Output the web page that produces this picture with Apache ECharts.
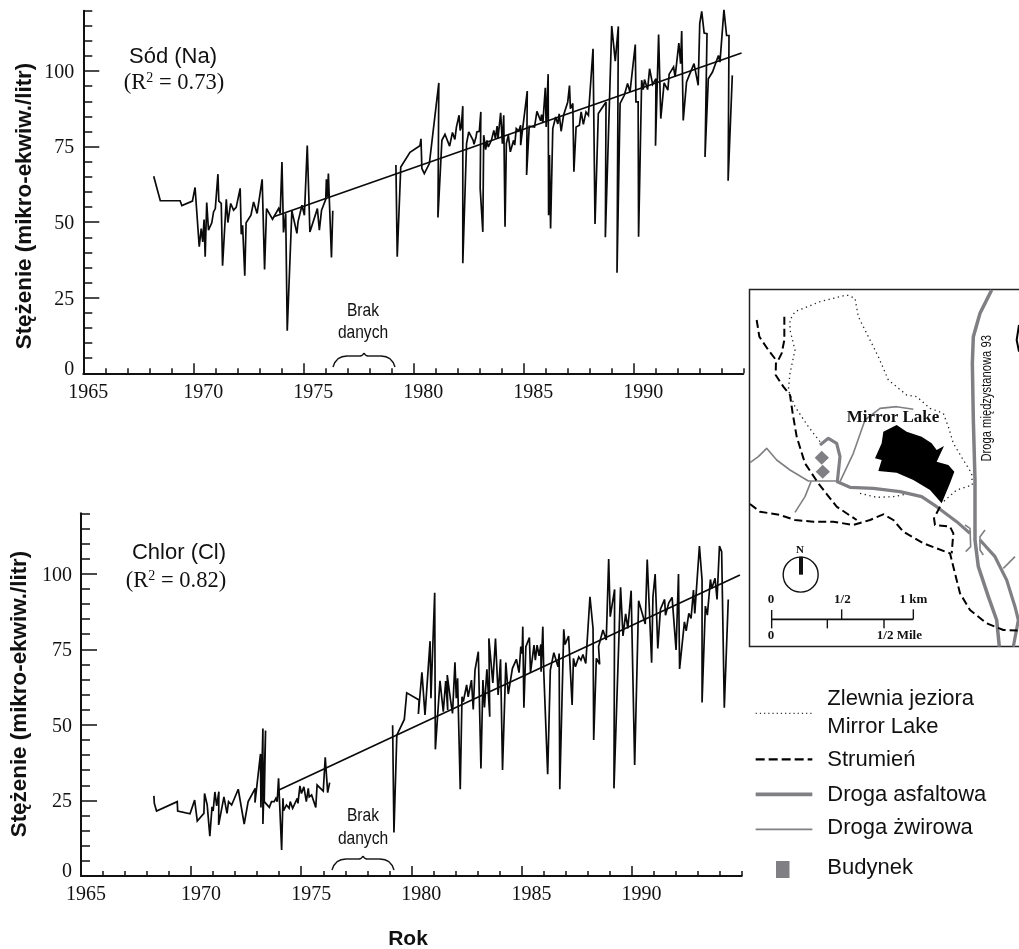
<!DOCTYPE html>
<html><head><meta charset="utf-8">
<style>html,body{margin:0;padding:0;background:#fff}#c{width:1019px;height:949px}</style>
<script src="https://cdn.jsdelivr.net/npm/echarts@6/dist/echarts.min.js"></script>
</head><body><div id="c"></div>
<script>
const yearTicks=[1970,1975,1980,1985,1990];
const xAxisLabels=[1965,1970,1975,1980,1985,1990];
const concTicks=[0,25,50,75,100];
const sodEarly=[[1968.2,65.2],[1968.5,57.1],[1969.4,57.1],[1969.48,55.5],[1969.96,57],[1970.08,61.5],[1970.27,41.9],[1970.36,47.9],[1970.43,43.5],[1970.49,50.9],[1970.54,38.6],[1970.61,56.5],[1970.69,47.4],[1970.84,49.8],[1970.92,53.4],[1971,54.5],[1971.12,65.9],[1971.16,57],[1971.27,56.2],[1971.33,35.6],[1971.5,57.6],[1971.57,49.9],[1971.7,56.2],[1971.83,54],[1971.95,54.9],[1972.13,61.2],[1972.18,46],[1972.24,49],[1972.27,49],[1972.34,32.3],[1972.4,49.8],[1972.62,52.3],[1972.74,56.7],[1972.9,52.9],[1973.13,64.2],[1973.24,34.4],[1973.33,54.5],[1973.6,51],[1973.88,54.6],[1973.95,52.9],[1974.03,69.9],[1974.1,46.6],[1974.2,52.9],[1974.27,14.1],[1974.48,53.8],[1974.71,46.3],[1974.76,50.1],[1974.94,55.6],[1975.05,52.3],[1975.18,75.4],[1975.3,46.8],[1975.64,54.5],[1975.73,47.4],[1975.83,54],[1976.02,57.6],[1976.05,64.2],[1976.1,58.4],[1976.14,66.1],[1976.28,38.3],[1976.34,53.8]];
const sodLate=[[1979.21,68.9],[1979.27,38.6],[1979.43,68.3],[1979.85,73.1],[1980.3,75.3],[1980.35,77.6],[1980.39,67.8],[1980.5,66.1],[1980.73,69.4],[1981.16,96.1],[1981.12,51.6],[1981.3,77.1],[1981.44,79.1],[1981.65,75.2],[1981.78,79.7],[1981.89,77.4],[1981.96,81.5],[1982.03,81],[1982.08,85.4],[1982.13,80.4],[1982.18,81.5],[1982.25,88.4],[1982.25,36.4],[1982.42,76],[1982.47,76.2],[1982.52,79.9],[1982.72,77.1],[1982.76,75.8],[1982.85,78.2],[1982.89,79.9],[1983,80.1],[1983.07,86.5],[1983.04,61.2],[1983.16,46.8],[1983.2,78.8],[1983.29,74],[1983.35,77.1],[1983.41,74.9],[1983.55,77.1],[1983.66,80.4],[1983.73,77.7],[1983.81,81.8],[1983.85,77.7],[1983.97,86.2],[1984.05,76],[1984.11,85.4],[1984.17,48.5],[1984.23,76],[1984.32,78.8],[1984.41,73.3],[1984.56,77.1],[1984.61,75.5],[1984.68,81],[1984.79,80.2],[1984.88,82.1],[1984.88,75.5],[1985.18,93.4],[1985.15,65.6],[1985.27,81.8],[1985.51,81.5],[1985.62,86.7],[1985.79,83.5],[1985.83,85.6],[1985.89,82.9],[1986,94.5],[1986.04,81.5],[1986.13,99],[1986.15,52.3],[1986.19,72.2],[1986.24,47.9],[1986.34,81],[1986.47,84.8],[1986.57,82.5],[1986.63,85.9],[1986.72,80.1],[1986.83,85.4],[1987.02,89.8],[1987.1,95.2],[1987.14,87.6],[1987.25,89.3],[1987.3,66.7],[1987.4,81.5],[1987.55,82.1],[1987.63,86.5],[1987.73,82.4],[1987.85,86.5],[1987.96,85.4],[1988.17,107.4],[1988.26,49.4],[1988.41,86],[1988.76,89.8],[1988.73,45],[1989.02,114.9],[1989.18,103.3],[1989.32,114.8],[1989.26,33.3],[1989.4,89.3],[1989.59,92],[1989.74,95.9],[1989.85,93.1],[1990.09,108.8],[1990.12,89.8],[1990.22,89.8],[1990.24,45.2],[1990.38,97],[1990.45,93.9],[1990.51,97.2],[1990.65,93.9],[1990.74,100.8],[1990.88,95.6],[1991.03,97.5],[1991.01,75.3],[1991.15,112.1],[1991.25,84.3],[1991.4,96.1],[1991.57,93.7],[1991.63,99],[1991.83,101.4],[1991.9,98.1],[1992.07,109.3],[1992.15,102.5],[1992.2,113.3],[1992.27,83.7],[1992.42,96.4],[1992.54,98.6],[1992.76,102.5],[1992.84,103],[1992.95,95.3],[1993.02,115.7],[1993.08,115.9],[1993.11,119.8],[1993.22,112.6],[1993.35,112.4],[1993.26,71.6],[1993.41,97.5],[1993.6,99.7],[1993.87,105.2],[1993.94,103],[1994.12,120.3],[1994.24,111.8],[1994.35,111.8],[1994.31,63.7],[1994.5,98.6]];
const sodTrend=[[1973.65,51.8],[1994.92,106]];
const chlorEarly=[[1968.31,26.5],[1968.33,24],[1968.43,21.5],[1969.37,24.6],[1969.39,21.5],[1969.95,20.6],[1970.16,25.1],[1970.28,18.2],[1970.58,20.7],[1970.61,27.3],[1970.73,23.5],[1970.85,13.2],[1970.95,22.9],[1971,21.5],[1971.08,27.8],[1971.16,23.2],[1971.26,27.9],[1971.25,16.9],[1971.49,26.2],[1971.63,20.7],[1971.7,24.6],[1971.84,23.5],[1972.14,28.7],[1972.41,17.2],[1972.59,24.6],[1972.91,29],[1972.9,24.3],[1973.15,40.4],[1973.17,22.7],[1973.26,48.8],[1973.26,17.2],[1973.38,48.1],[1973.32,24.6],[1973.55,22.7],[1973.65,24.6],[1973.77,24.6],[1973.85,25.7],[1973.91,24.6],[1973.97,32.3],[1974.11,8.6],[1974.17,25.7],[1974.2,21.6],[1974.33,23.5],[1974.45,22.4],[1974.5,24.6],[1974.61,22.4],[1974.82,25.7],[1974.85,24],[1974.94,29.8],[1975.01,27.3],[1975.12,29.5],[1975.23,24.6],[1975.32,29],[1975.36,26.2],[1975.47,26.8],[1975.66,22.7],[1975.72,30.1],[1976,28.1],[1976.09,39.3],[1976.2,27.6],[1976.29,30.9]];
const chlorLate=[[1979.15,49.9],[1979.21,14.4],[1979.34,46.6],[1979.68,51.8],[1979.79,60.6],[1980.35,58.2],[1980.32,53.6],[1980.48,67.4],[1980.62,53.3],[1980.85,77.7],[1980.89,58.8],[1981.06,93.7],[1981.09,41.9],[1981.3,64.6],[1981.45,54.4],[1981.56,64.5],[1981.65,54.9],[1981.63,66.5],[1981.78,58.2],[1981.87,53.8],[1981.98,70.7],[1982.04,58.8],[1982.1,65.4],[1982.22,28.7],[1982.3,59.3],[1982.36,57.7],[1982.51,63.2],[1982.58,59.3],[1982.73,64.8],[1982.81,55.1],[1982.89,68.1],[1983.04,74.2],[1983.16,35.6],[1983.25,64.8],[1983.32,55.8],[1983.43,68.4],[1983.56,52.7],[1983.52,78.6],[1983.7,63.9],[1983.82,78.6],[1983.94,59.9],[1984.05,71.7],[1984.14,35.1],[1984.29,70.6],[1984.4,60.2],[1984.59,68.7],[1984.77,71.7],[1984.89,67.3],[1984.97,75.9],[1985.03,73.6],[1985.06,82.5],[1985.11,55.7],[1985.2,75.9],[1985.36,78.9],[1985.41,67.3],[1985.57,76.4],[1985.63,71.4],[1985.71,76.4],[1985.8,72.8],[1985.88,76.6],[1985.89,67.6],[1985.97,82.5],[1986.01,68.1],[1986.19,33.7],[1986.31,68.1],[1986.47,73.9],[1986.66,69.2],[1986.71,73.6],[1986.74,28.7],[1986.92,81.6],[1986.98,76.6],[1987.14,79.4],[1987.3,56.6],[1987.36,72],[1987.45,69.2],[1987.6,72.5],[1987.7,71.4],[1987.79,73.3],[1987.92,70.3],[1988.11,92.4],[1988.25,81.9],[1988.28,45],[1988.4,72],[1988.55,70],[1988.5,75.9],[1988.7,81.4],[1988.85,78.1],[1988.96,104.9],[1989.03,85.8],[1989.23,94.8],[1989.2,29],[1989.5,95.5],[1989.61,79.4],[1989.73,86.7],[1989.83,81.9],[1989.98,94.4],[1990.14,36.7],[1990.32,91.1],[1990.62,83.4],[1990.71,104.7],[1990.91,70.6],[1990.97,92.4],[1991.07,99.9],[1991.19,75.3],[1991.31,88.3],[1991.5,91.5],[1991.54,86.3],[1991.69,90.4],[1991.84,92.2],[1992.02,74.8],[1992.13,99.9],[1992.18,68.5],[1992.4,84.1],[1992.48,81.1],[1992.6,86.9],[1992.7,85.2],[1992.81,94.6],[1992.87,86.9],[1993.08,109.2],[1993.2,97.9],[1993.2,57.4],[1993.35,89.3],[1993.44,86.3],[1993.58,98.1],[1993.64,95.1],[1993.79,98.5],[1993.88,91.5],[1993.99,109.2],[1994.09,107.3],[1994.21,55.7],[1994.39,91.5]];
const chlorTrend=[[1973.96,28.4],[1994.92,99.6]];

const SERIF="'Liberation Serif'",SANS="'Liberation Sans'";
const GRAY='#808084';
const chart=echarts.init(document.getElementById('c'));

function xMain(i){return {type:'value',gridIndex:i,min:1965,max:1995,position:'bottom',splitLine:{show:false},
  axisLine:{show:true,onZero:false,lineStyle:{color:'#111',width:2}},
  axisTick:{show:true,inside:true,length:10,customValues:yearTicks,lineStyle:{color:'#111',width:1.5}},
  axisLabel:{show:true,customValues:xAxisLabels,margin:9,showMinLabel:true,hideOverlap:false,
    formatter:v=>v===1965?'{a|'+v+'}':'{b|'+v+'}',
    rich:{a:{fontFamily:SERIF,fontSize:20,color:'#111',padding:[0,0,0,10]},b:{fontFamily:SERIF,fontSize:20,color:'#111',padding:[0,0,0,20]}}}};}
function xMinor(i){return {type:'value',gridIndex:i,min:1965,max:1995,interval:1,position:'bottom',splitLine:{show:false},
  axisLine:{show:false,onZero:false},axisTick:{show:true,inside:true,length:5,lineStyle:{color:'#111',width:1.5}},axisLabel:{show:false}};}
function yMain(i){return {type:'value',gridIndex:i,min:0,max:120,position:'left',splitLine:{show:false},
  axisLine:{show:true,onZero:false,lineStyle:{color:'#111',width:2}},
  axisTick:{show:true,inside:true,length:16,customValues:concTicks,lineStyle:{color:'#111',width:1.5}},
  axisLabel:{show:true,customValues:concTicks,margin:9,
    formatter:v=>v===0?'{z|0}':'{n|'+v+'}',
    rich:{n:{fontFamily:SERIF,fontSize:20,color:'#111',padding:[3,0,0,0]},z:{fontFamily:SERIF,fontSize:20,color:'#111',padding:[0,0,8,0]}}}};}
function yMinor(i){return {type:'value',gridIndex:i,min:0,max:120,interval:5,position:'left',splitLine:{show:false},
  axisLine:{show:false,onZero:false},axisTick:{show:true,inside:true,length:9,lineStyle:{color:'#111',width:1.5}},axisLabel:{show:false}};}
function ln(name,data,xi,yi,w){return {type:'line',name,data,xAxisIndex:xi,yAxisIndex:yi,showSymbol:false,symbol:'none',clip:false,silent:true,smooth:false,
  lineStyle:{color:'#0a0a0a',width:w,join:'miter',miterLimit:3}};}

// inset-map drawing helpers: crop coords (3x, origin 740,280) → page px
const M=p=>p.map(([a,b])=>[740+a/3,280+b/3]);
const L=p=>p.map(([a,b])=>[740+a/3,670+b/3]);
function poly(points,stroke,w,dash,extra){return Object.assign({type:'polyline',shape:{points},style:{stroke,lineWidth:w,fill:null,lineDash:dash||null,lineJoin:'round'},silent:true},extra||{});}
function fillPoly(points,fill){return {type:'polygon',shape:{points},style:{fill,stroke:null},silent:true};}
function txt(x,y,text,font,opt){opt=opt||{};return Object.assign({type:'text',x,y,silent:true,style:{text,font,fill:opt.fill||'#111',textAlign:opt.align||'center',textVerticalAlign:'middle'}},opt.tf||{});}
function bz(x0,y0,a){return {type:'bezierCurve',silent:true,shape:{x1:x0+a[0],y1:y0+a[1],cpx1:x0+a[2],cpy1:y0+a[3],cpx2:x0+a[4],cpy2:y0+a[5],x2:x0+a[6],y2:y0+a[7]},style:{stroke:'#111',fill:null,lineWidth:1.4}};}
function brace(x0,y0){return [
  bz(x0,y0,[0,14,2,7,6,3,14,3]),
  poly([[x0+14,y0+3],[x0+27,y0+3]],'#111',1.4),
  bz(x0,y0,[27,3,29,3,30,2,31,0]),
  bz(x0,y0,[31,0,32,2,33,3,35,3]),
  poly([[x0+35,y0+3],[x0+48,y0+3]],'#111',1.4),
  bz(x0,y0,[48,3,56,3,60,7,62,14])];}

const mapItems=[
 {type:'rect',shape:{x:749.5,y:289.5,width:280,height:357},style:{fill:'#fff',stroke:'#222',lineWidth:1.5},silent:true},
 poly(M([[240,485],[205,440],[165,380],[145,330],[150,280],[165,210],[150,150],[150,120],[165,95],[240,65],[320,45],[345,55],[355,110],[385,170],[415,230],[445,300],[500,345],[530,350],[570,385],[610,400],[625,440],[640,490],[670,540],[695,580],[697,615],[650,630],[610,665]]),'#222',1.3,[1.3,3.5]),
 poly(M([[360,640],[410,652],[460,650],[510,640]]),'#222',1.3,[1.3,3.5]),
 fillPoly(M([[430,455],[470,435],[500,455],[545,470],[575,490],[590,510],[612,498],[590,545],[625,555],[643,575],[630,610],[605,670],[570,630],[520,600],[470,578],[415,573],[425,540],[405,535],[425,490]]),'#000'),
 poly(M([[30,548],[55,530],[80,505],[110,540],[150,570],[205,603],[290,603]]),GRAY,1.6),
 poly(M([[300,605],[340,520],[375,420],[420,385],[470,380],[520,388]]),GRAY,1.6),
 poly(M([[213,605],[195,650],[165,697]]),GRAY,1.6),
 poly(M([[790,865],[825,830]]),GRAY,1.6),
 poly(M([[675,735],[690,745],[692,800],[677,815]]),GRAY,1.6),
 poly(M([[735,750],[720,770],[720,810],[730,825]]),GRAY,1.6),
 poly(M([[755,30],[720,100],[700,170],[697,250],[700,420],[705,600],[705,780],[715,860],[745,950],[770,1020],[778,1100]]),GRAY,3.5),
 poly(M([[240,495],[265,475],[290,490],[300,530],[292,605],[330,622],[400,625],[480,635],[545,650],[590,680],[650,725],[690,760]]),GRAY,3.2),
 poly(M([[720,780],[765,830],[800,900],[825,980],[835,1020],[820,1100]]),GRAY,3.2),
 poly(M([[50,120],[58,170],[85,210],[108,240],[107,285],[130,320],[150,345],[158,400],[170,470],[195,550],[235,610],[290,680],[350,720]]),'#000',2,[8,4]),
 poly(M([[133,110],[133,180],[125,220],[110,250]]),'#000',2,[8,4]),
 poly(M([[30,672],[60,695],[120,705],[165,720],[220,725],[280,725],[340,735],[390,720],[430,703],[460,720],[490,755],[550,790],[630,820],[640,860],[660,940],[690,990],[740,1030],[790,1050],[837,1052]]),'#000',2,[8,4]),
 poly(M([[600,680],[582,715],[585,735],[630,740],[640,760],[635,820]]),'#000',2,[8,4]),
 poly(M([[837,135],[830,180],[837,215]]),'#000',2),
 fillPoly(M([[245,512],[267,533],[245,554],[224,533]]),GRAY),
 fillPoly(M([[248,554],[270,575],[248,596],[227,575]]),GRAY),
 txt(740+459/3,280+412/3,'Mirror Lake',"bold 17px "+SERIF),
 txt(740+742/3,280+355/3,'Droga międzystanowa 93',"14px "+SANS,{tf:{rotation:Math.PI/2,scaleX:0.8}}),
 txt(740+180/3,280+810/3,'N',"bold 11px "+SERIF),
 {type:'circle',shape:{cx:740+182/3,cy:280+884/3,r:17.5},style:{fill:'#fff',stroke:'#111',lineWidth:1.4},silent:true},
 poly(M([[183,830],[183,884]]),'#111',4),
 poly(M([[95,1018],[520,1018]]),'#111',1.6),
 poly(M([[95,990],[95,1045]]),'#111',1.4),
 poly(M([[305,988],[305,1018]]),'#111',1.4),
 poly(M([[520,988],[520,1018]]),'#111',1.4),
 poly(M([[262,1018],[262,1045]]),'#111',1.4),
 poly(M([[432,1018],[432,1045]]),'#111',1.4),
 txt(740+93/3,280+960/3,'0',"bold 13px "+SERIF),
 txt(740+307/3,280+960/3,'1/2',"bold 13px "+SERIF),
 txt(740+520/3,280+960/3,'1 km',"bold 13px "+SERIF),
 txt(740+93/3,280+1068/3,'0',"bold 13px "+SERIF),
 txt(740+478/3,280+1068/3,'1/2 Mile',"bold 13px "+SERIF)
];
const legendItems=[
 poly(L([[47,130],[217,130]]),'#333',1.2,[1.2,3]),
 poly(L([[47,268],[217,268]]),'#000',2.2,[9,4]),
 poly(L([[47,373],[217,373]]),GRAY,3.6),
 poly(L([[47,478],[217,478]]),GRAY,1.7),
 {type:'rect',shape:{x:740+108/3,y:670+573/3,width:13.5,height:17},style:{fill:GRAY},silent:true},
 txt(740+262/3,670+88/3,'Zlewnia jeziora',"22px "+SANS,{align:'left'}),
 txt(740+262/3,670+171/3,'Mirror Lake',"22px "+SANS,{align:'left'}),
 txt(740+262/3,670+271/3,'Strumień',"22px "+SANS,{align:'left'}),
 txt(740+262/3,670+375/3,'Droga asfaltowa',"22px "+SANS,{align:'left'}),
 txt(740+262/3,670+475/3,'Droga żwirowa',"22px "+SANS,{align:'left'}),
 txt(740+262/3,670+595/3,'Budynek',"22px "+SANS,{align:'left'})
];
const narrow={tf:{scaleX:0.82}};
const r2=(x,y,v)=>({type:'text',x,y,silent:true,style:{text:'(R{s|2} = '+v+')',font:"22.5px "+SERIF,fill:'#111',textAlign:'center',textVerticalAlign:'middle',rich:{s:{fontSize:14,fontFamily:SERIF,verticalAlign:'top',fill:'#111'}}}});
const annotItems=[
 txt(25,206,'Stężenie (mikro-ekwiw./litr)',"bold 22.4px "+SANS,{tf:{rotation:Math.PI/2}}),
 txt(20,694,'Stężenie (mikro-ekwiw./litr)',"bold 22.4px "+SANS,{tf:{rotation:Math.PI/2}}),
 txt(173,57,'Sód (Na)',"22px "+SANS),
 r2(174,83,'0.73'),
 txt(179,553,'Chlor (Cl)',"22px "+SANS),
 r2(176,581,'0.82'),
 txt(363,311,'Brak',"19px "+SANS,narrow),
 txt(363,333,'danych',"19px "+SANS,narrow),
 ...brace(333,353),
 txt(363,816,'Brak',"19px "+SANS,narrow),
 txt(363,839,'danych',"19px "+SANS,narrow),
 ...brace(332,856),
 txt(408,939,'Rok',"bold 21px "+SANS)
];

chart.setOption({
 animation:false,backgroundColor:'#fff',
 grid:[{left:83.3,width:660,top:10.7,height:362.6,outerBoundsMode:'none'},{left:81,width:660.7,top:513.3,height:362.7,outerBoundsMode:'none'}],
 xAxis:[xMain(0),xMinor(0),xMain(1),xMinor(1)],
 yAxis:[yMain(0),yMinor(0),yMain(1),yMinor(1)],
 series:[ln('Sód',sodEarly,0,0,1.7),ln('Sód',sodLate,0,0,1.7),ln('Trend Sód',sodTrend,0,0,1.7),
         ln('Chlor',chlorEarly,2,2,1.7),ln('Chlor',chlorLate,2,2,1.7),ln('Trend Chlor',chlorTrend,2,2,1.7)],
 graphic:{elements:[...annotItems,...mapItems,...legendItems]}
});
</script></body></html>
